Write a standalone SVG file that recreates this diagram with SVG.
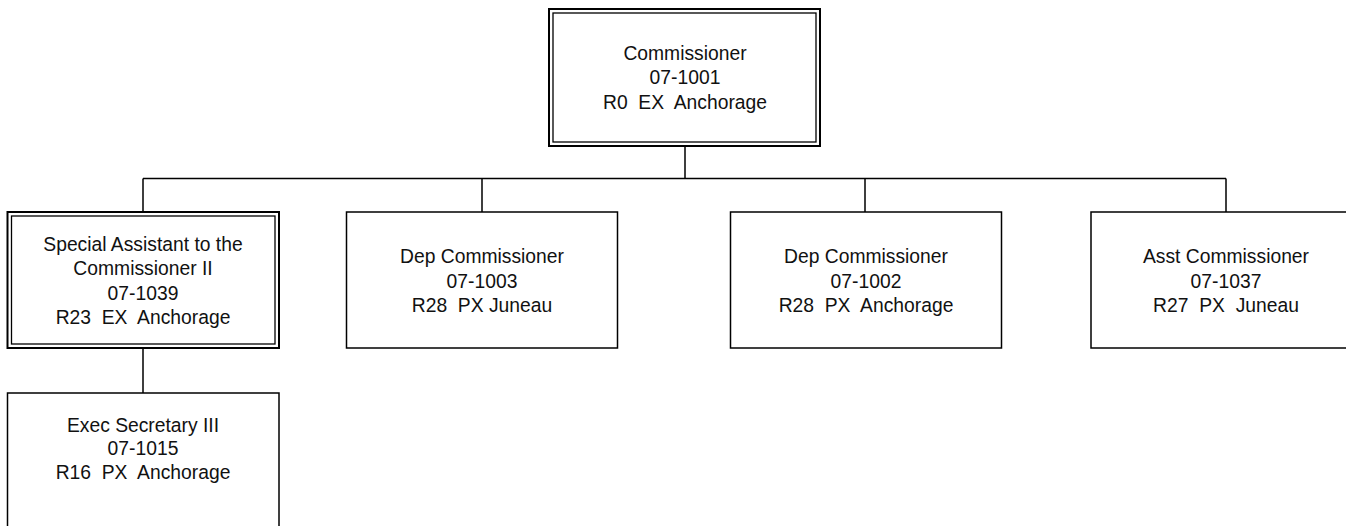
<svg xmlns="http://www.w3.org/2000/svg" width="1346" height="526" viewBox="0 0 1346 526">
<style>
.box{fill:#fff;stroke:#000;stroke-width:1.5}
.outer{fill:#fff;stroke:#000;stroke-width:2}
.inner{fill:none;stroke:#000;stroke-width:1.3}
.line{fill:none;stroke:#000;stroke-width:1.5}
text{font-family:"Liberation Sans",Arial,sans-serif;font-size:19.3px;fill:#111;text-anchor:middle}
</style>
<rect width="1346" height="526" fill="#fff"/>
<g id="connectors">
<path class="line" d="M685,146 V178.5 M143,178.5 H1226 M143,178.5 V212 M482,178.5 V212 M865,178.5 V212 M1226,178.5 V212 M143,348 V393"/>
</g>
<g id="commissioner">
<rect class="outer" x="549" y="9" width="271" height="137"/>
<rect class="inner" x="553" y="13" width="263" height="129"/>
<text x="685" y="59.5">Commissioner</text>
<text x="685" y="84">07-1001</text>
<text x="685" y="108.5" xml:space="preserve">R0  EX  Anchorage</text>
</g>
<g id="special-assistant">
<rect class="outer" x="7.5" y="212" width="271.5" height="136"/>
<rect class="inner" x="11.5" y="216" width="263.5" height="128"/>
<text x="143" y="250.5">Special Assistant to the</text>
<text x="143" y="275">Commissioner II</text>
<text x="143" y="299.5">07-1039</text>
<text x="143" y="324" xml:space="preserve">R23  EX  Anchorage</text>
</g>
<g id="dep-commissioner-1003">
<rect class="box" x="346.5" y="212" width="271" height="136"/>
<text x="482" y="263">Dep Commissioner</text>
<text x="482" y="287.5">07-1003</text>
<text x="482" y="311.5" xml:space="preserve">R28  PX Juneau</text>
</g>
<g id="dep-commissioner-1002">
<rect class="box" x="730.5" y="212" width="271" height="136"/>
<text x="866" y="263">Dep Commissioner</text>
<text x="866" y="287.5">07-1002</text>
<text x="866" y="311.5" xml:space="preserve">R28  PX  Anchorage</text>
</g>
<g id="asst-commissioner">
<rect class="box" x="1091" y="212" width="271" height="136"/>
<text x="1226" y="263">Asst Commissioner</text>
<text x="1226" y="287.5">07-1037</text>
<text x="1226" y="311.5" xml:space="preserve">R27  PX  Juneau</text>
</g>
<g id="exec-secretary">
<rect class="box" x="7.5" y="393" width="271.5" height="140"/>
<text x="143" y="431.5">Exec Secretary III</text>
<text x="143" y="455">07-1015</text>
<text x="143" y="479" xml:space="preserve">R16  PX  Anchorage</text>
</g>
</svg>
